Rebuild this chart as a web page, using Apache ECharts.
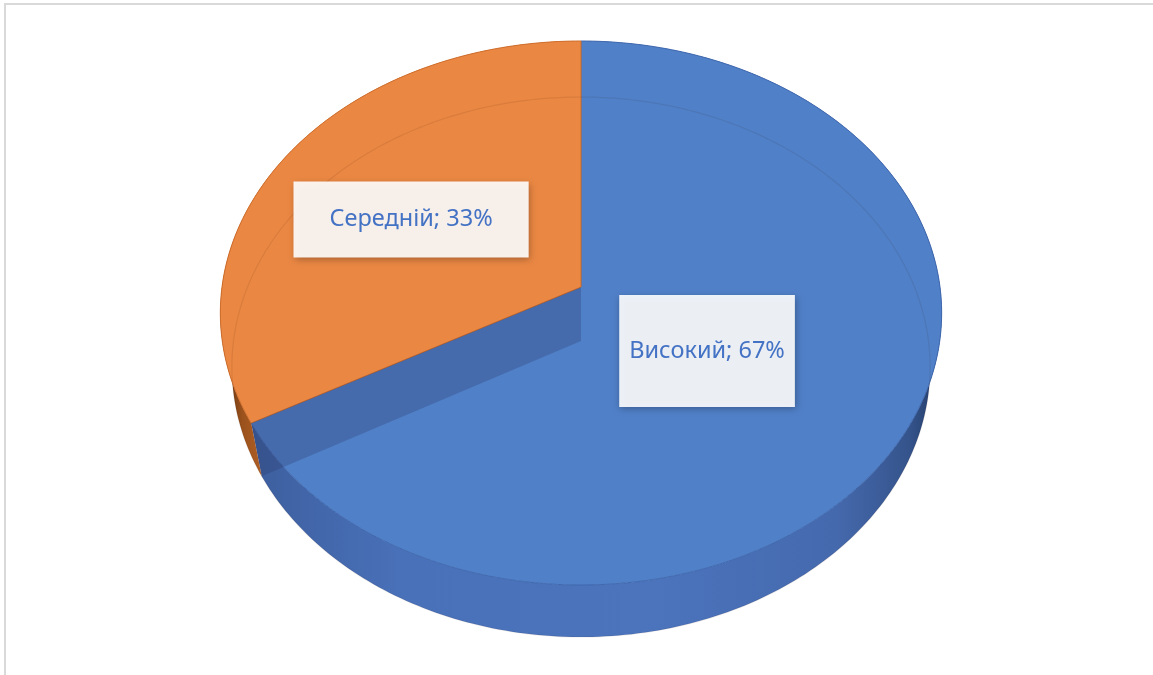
<!DOCTYPE html>
<html>
<head>
<meta charset="utf-8">
<script src="https://cdn.jsdelivr.net/npm/echarts@6/dist/echarts.min.js"></script>
<style>
html,body{margin:0;padding:0;background:#ffffff;}
#chart{width:1153px;height:675px;}
</style>
</head>
<body>
<div id="chart"></div>
<script>
// ---- data ----
const categories = ['Високий', 'Середній'];
const values = [67, 33];

// ---- style ----
const topColors = ['#5080C8', '#EA8743'];
const edgeColors = ['#4068AE', '#CF6E2C'];
const labelR = [0.4, 0.565];
const labelDY = 8;

// projection of the pie disc (pseudo-3D, perspective)
const CX = 581;
const TOP = { A: 359, P: 242.08, E: -0.0956, C: 287 };
const BOT = { A: 347.5, P: 234.66, E: -0.0963, C: 341 };
function proj(p, ang, r) {
  const u = r * Math.sin(ang), v = -r * Math.cos(ang);
  const w = 1 + p.E * v;
  return [CX + p.A * u / w, (p.P * v + p.C) / w];
}
const topPt = (a, r) => proj(TOP, a, r === undefined ? 1 : r);
const botPt = (a, r) => proj(BOT, a, r === undefined ? 1 : r);

function grad(stops) {
  return new echarts.graphic.LinearGradient(220, 0, 945, 0,
    stops.map(s => ({ offset: s[0], color: s[1] })), true);
}
const sideFills = [
  grad([[0, '#2a4272'], [0.05, '#3d5f9f'], [0.25, '#4971b9'], [0.6, '#4b74bd'], [0.85, '#4569ad'], [0.95, '#35548c'], [1, '#213862']]),
  grad([[0, '#4a2408'], [0.03, '#9a511c'], [0.08, '#c26a2c'], [1, '#c26a2c']])
];

function renderItem(params, api) {
  const i = params.dataIndex;
  const total = values.reduce((a, b) => a + b, 0);
  let start = 0;
  for (let k = 0; k < i; k++) start += values[k];
  const val = api.value(0);
  const a0 = start / total * 2 * Math.PI;
  const a1 = (start + val) / total * 2 * Math.PI;
  const n = Math.max(2, Math.ceil((a1 - a0) / (Math.PI / 180)));
  const children = [];

  // side wall
  const side = [];
  for (let k = 0; k <= n; k++) side.push(topPt(a0 + (a1 - a0) * k / n));
  for (let k = n; k >= 0; k--) side.push(botPt(a0 + (a1 - a0) * k / n));
  children.push({ type: 'polygon', shape: { points: side }, style: { fill: sideFills[i] }, z2: 1 });

  // top face
  const top = [topPt(0, 0)];
  for (let k = 0; k <= n; k++) top.push(topPt(a0 + (a1 - a0) * k / n));
  children.push({ type: 'polygon', shape: { points: top },
    style: { fill: topColors[i], stroke: edgeColors[i], lineWidth: 1, lineJoin: 'round' }, z2: 10 + i });

  if (i === 0) {
    // cut face seen through the translucent top
    const band = [topPt(a1, 0), topPt(a1, 1), botPt(a1, 1), botPt(a1, 0)];
    children.push({ type: 'polygon', shape: { points: band },
      style: { fill: 'rgba(40,50,100,0.27)' }, z2: 20 });
    // far bottom rim seen through the top
    const rim = [];
    for (let k = 0; k <= 360; k++) rim.push(botPt(k * Math.PI / 180));
    children.push({ type: 'polyline', shape: { points: rim },
      style: { stroke: 'rgba(60,20,0,0.09)', lineWidth: 1.2, fill: null }, z2: 21 });
  }

  // label
  const mid = (a0 + a1) / 2;
  const lp = topPt(mid, labelR[i]);
  const pct = Math.round(val / total * 100);
  const pads = [[44, 10], [26, 36]];
  children.push({
    type: 'text', x: lp[0], y: lp[1] + labelDY, z2: 40,
    style: {
      text: categories[i] + '; ' + pct + '%',
      align: 'center', verticalAlign: 'middle',
      fill: '#4472C4',
      font: '23.5px "Noto Sans"',
      lineHeight: 24,
      backgroundColor: 'rgba(255,255,255,0.9)',
      padding: pads[i],
      shadowBlur: 7, shadowColor: 'rgba(0,0,0,0.32)', shadowOffsetX: 1, shadowOffsetY: 2
    }
  });
  return { type: 'group', children };
}

const chart = echarts.init(document.getElementById('chart'), null, { renderer: 'canvas' });
chart.setOption({
  backgroundColor: '#ffffff',
  animation: false,
  graphic: [{
    type: 'rect', shape: { x: 5, y: 4, width: 1170, height: 700 },
    style: { fill: null, stroke: '#d9d9d9', lineWidth: 2 }, silent: true
  }],
  series: [{
    type: 'custom',
    coordinateSystem: 'none',
    silent: true,
    renderItem: renderItem,
    data: values
  }]
});
</script>
</body>
</html>
